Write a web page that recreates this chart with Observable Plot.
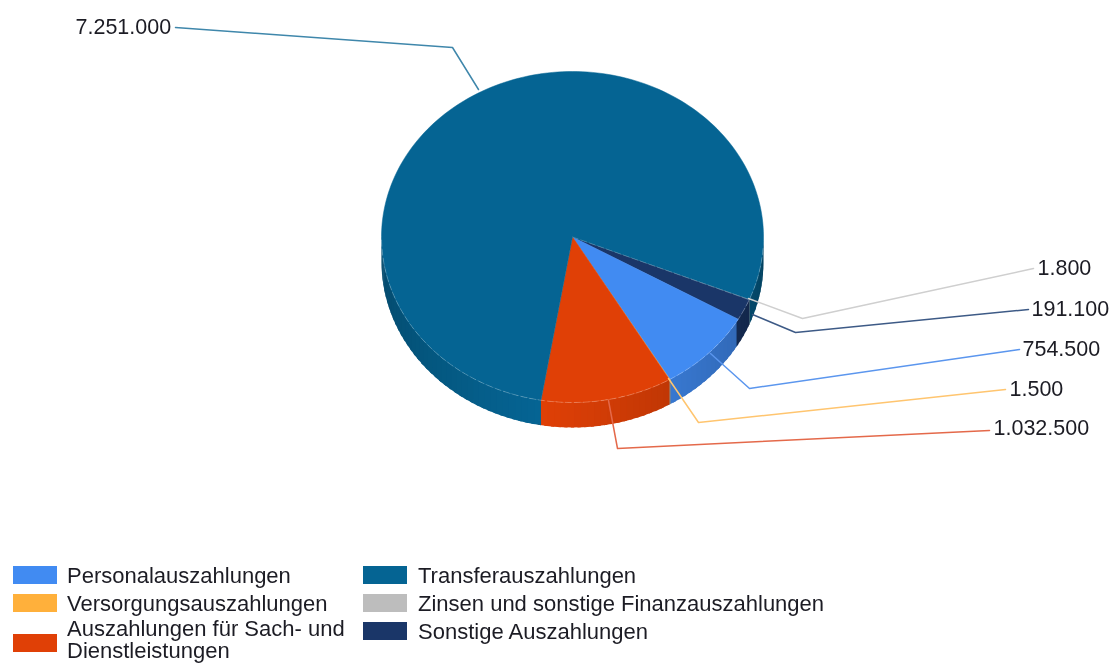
<!DOCTYPE html>
<html lang="de">
<head>
<meta charset="utf-8">
<script src="https://cdn.jsdelivr.net/npm/d3@7"></script>
<script src="https://cdn.jsdelivr.net/npm/@observablehq/plot@0.6"></script>
<style>
  html, body { margin: 0; padding: 0; background: #fff; overflow: hidden; }
  #chart { position: relative; width: 1110px; height: 664px; font-family: "Liberation Sans", Arial, sans-serif; color: #1c1c24; filter: blur(0.4px); }
  #chart svg { display: block; }
  .sw { position: absolute; width: 44px; height: 18px; }
  .lb { position: absolute; font-size: 22px; line-height: 22px; white-space: nowrap; }
</style>
</head>
<body>
<div id="chart"></div>
<script>
// Data, in legend order
const names = ["Personalauszahlungen", "Versorgungsauszahlungen", "Auszahlungen für Sach- und Dienstleistungen",
               "Transferauszahlungen", "Zinsen und sonstige Finanzauszahlungen", "Sonstige Auszahlungen"];
const values = [754500, 1500, 1032500, 7251000, 1800, 191100];
// Slice sweeps in degrees as measured on the reference picture (its slices are not exactly proportional to its labels)
const sweeps = [29.4, 0.3, 40, 282.6, 0.2, 7.5];
const colors = ["#418bf2", "#ffb03b", "#e04006", "#056493", "#bdbdbd", "#1a3668"];
const leaderColors = ["#5b96ee", "#ffc56f", "#e4694a", "#3f87ab", "#cfcfcf", "#3d5a86"];

// Layout
const W = 1110, H = 556;
const cx = 572, cy = 236.5, rx = 191, ry = 165.5, depth = 25;
const startDeg = 29.8;
const leaderPaths = [
  [[710, 353], [749, 388], [1019, 349]],
  [[668, 378], [698, 422], [1005, 389]],
  [[608, 400], [617, 448], [989, 430]],
  [[478, 89], [452, 47], [175, 27]],
  [[748, 298], [802, 318], [1033, 268]],
  [[752, 314], [795, 332], [1028, 309]]
];
const labelPos = [[1022, 349], [1009, 389], [993, 428], [75, 27], [1037, 268], [1031, 309]];
const legendPos = [[13, 566, 67, 565], [13, 594, 67, 593], [13, 634, 67, 618],
                   [363, 566, 418, 565], [363, 594, 418, 593], [363, 622, 418, 621]];

const fmt = d3.formatLocale({decimal: ",", thousands: ".", grouping: [3], currency: ["", "€"]}).format(",d");
const rad = d => d * Math.PI / 180;
const px = t => cx + rx * Math.cos(rad(t));
const py = t => cy + ry * Math.sin(rad(t));

// d3.pie angles → degrees clockwise from +x on the screen
const arcs = d3.pie().sort(null).value(d => d).startAngle(0).endAngle(2 * Math.PI)(sweeps)
  .map((a, i) => ({i, a0: startDeg + a.startAngle * 180 / Math.PI, a1: startDeg + a.endAngle * 180 / Math.PI}));

// Top faces; the hairline slices go first so their neighbours cover them as in the reference
const topPts = [...arcs].sort((p, q) => (p.a1 - p.a0) - (q.a1 - q.a0)).flatMap(({i, a0, a1}) => {
  const n = Math.max(2, Math.ceil((a1 - a0) / 1.5));
  const pts = [{id: i, x: cx, y: cy, c: colors[i]}];
  for (let k = 0; k <= n; k++) {
    const t = a0 + (a1 - a0) * k / n;
    pts.push({id: i, x: px(t), y: py(t), c: colors[i]});
  }
  pts.push({id: i, x: cx, y: cy, c: colors[i]});
  return pts;
});

// Side wall: short quads, brightness falling away from the front
function shade(col, t) {
  const tt = ((t % 360) + 360) % 360;
  const b = Math.max(0.6, 1 - 0.0035 * Math.abs(tt - 100));
  const c = d3.rgb(col);
  return d3.rgb(c.r * b, c.g * b, c.b * b).formatHex();
}
const wallPts = [];
arcs.forEach(({i, a0, a1}) => {
  const n = Math.max(1, Math.ceil((a1 - a0) / 2));
  for (let k = 0; k < n; k++) {
    const t0 = a0 + (a1 - a0) * k / n, t1 = a0 + (a1 - a0) * (k + 1) / n;
    if (Math.sin(rad((t0 + t1) / 2)) <= 0) continue;
    const c = shade(colors[i], (t0 + t1) / 2), id = `${i}-${k}`;
    // each quad reaches a little under the next one, so no seam shows
    const t2 = i === 1 ? t1 : t1 + 1;
    [[t0, 0], [t2, 0], [t2, depth], [t0, depth], [t0, 0]].forEach(([t, d]) =>
      wallPts.push({id, x: px(t), y: py(t) + d, c}));
  }
});

// Faint highlight along the front rim and along one slice edge
const rimPts = d3.range(4, 181, 1.5).map(t => ({x: px(t), y: py(t)}));
const edgeDeg = arcs[4].a1;
const edgePts = [{x: cx, y: cy}, {x: px(edgeDeg), y: py(edgeDeg)}];

const leaderPts = leaderPaths.flatMap((p, i) => p.map(([x, y]) => ({i, x, y, c: leaderColors[i]})));
const labelData = values.map((v, i) => ({t: fmt(v), x: labelPos[i][0], y: labelPos[i][1]}));

const plot = Plot.plot({
  width: W, height: H,
  margin: 0,
  x: {domain: [0, W], range: [0, W], axis: null},
  y: {domain: [0, H], range: [0, H], axis: null},
  color: {type: "identity"},
  marks: [
    Plot.line(wallPts, {x: "x", y: "y", z: "id", fill: "c"}),
    Plot.line(topPts, {x: "x", y: "y", z: "id", fill: "c", stroke: "c", strokeWidth: 0.5}),
    Plot.line(rimPts, {x: "x", y: "y", stroke: "#fff", strokeOpacity: 0.3, strokeWidth: 0.8, strokeDasharray: "6 3"}),
    Plot.line(edgePts, {x: "x", y: "y", stroke: "#fff", strokeOpacity: 0.25, strokeWidth: 0.8, strokeDasharray: "6 3"}),
    Plot.line(leaderPts, {x: "x", y: "y", z: "i", stroke: "c", strokeWidth: 1.5}),
    Plot.text(labelData, {x: "x", y: "y", text: "t", textAnchor: "start", fontSize: 21.5,
      fontFamily: "Liberation Sans, Arial, sans-serif", fill: "#1c1c24"})
  ]
});

const root = document.getElementById("chart");
root.appendChild(plot);

// Legend below the SVG
names.forEach((name, i) => {
  const [sx, sy, tx, ty] = legendPos[i];
  const s = document.createElement("div");
  s.className = "sw";
  s.style.cssText = `left:${sx}px;top:${sy}px;background:${colors[i]}`;
  const l = document.createElement("div");
  l.className = "lb";
  l.style.cssText = `left:${tx}px;top:${ty}px`;
  if (name.includes("Sach")) {
    l.innerHTML = "Auszahlungen für Sach- und<br>Dienstleistungen";
  } else {
    l.textContent = name;
  }
  root.appendChild(s);
  root.appendChild(l);
});
</script>
</body>
</html>
